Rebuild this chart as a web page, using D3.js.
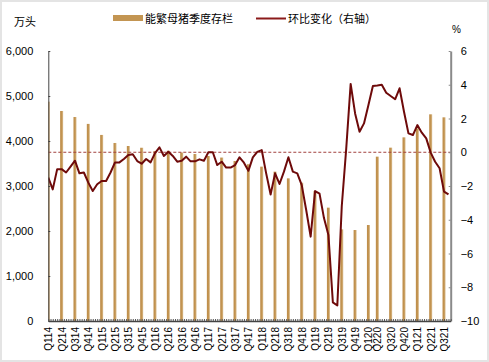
<!DOCTYPE html>
<html>
<head>
<meta charset="utf-8">
<script src="https://cdn.jsdelivr.net/npm/d3@7"></script>
<style>
  body { margin: 0; background: #fff; }
  svg { display: block; }
  text { font-family: "Liberation Sans", Arial, sans-serif; fill: #000; }
  .cjk { font-family: "Noto Sans CJK SC", sans-serif; }
</style>
</head>
<body>
<svg></svg>
<script>
// quarterly sow stock (10k head), left axis
let quarterLabels = [
  "Q114", "Q214", "Q314", "Q414", "Q115", "Q215", "Q315", "Q415",
  "Q116", "Q216", "Q316", "Q416", "Q117", "Q217", "Q317", "Q417",
  "Q118", "Q218", "Q318", "Q418", "Q119", "Q219", "Q319", "Q419",
  "Q120", "Q220", "Q320", "Q420", "Q121", "Q221", "Q321"
];
let barMonths = [
  "2014-01", "2014-04", "2014-07", "2014-10", "2015-01", "2015-04", "2015-07", "2015-10",
  "2016-01", "2016-04", "2016-07", "2016-10", "2017-01", "2017-04", "2017-07", "2017-10",
  "2018-01", "2018-04", "2018-07", "2018-10", "2019-01", "2019-04", "2019-07", "2019-10",
  "2020-01", "2020-03", "2020-06", "2020-09", "2020-12", "2021-03", "2021-06"
];
let sowStock = [
  4874, 4667, 4533, 4380, 4135, 3956, 3889, 3850,
  3775, 3785, 3745, 3711, 3667, 3632, 3556, 3483,
  3430, 3319, 3170, 3074, 2890, 2519, 2037, 2022,
  2133, 3652, 3852, 4081, 4281, 4593, 4526
];

// monthly change (%), right axis, Jan 2014 onwards
let momChange = [
  -1.5, -2.2, -1.0, -1.0, -1.2, -0.85, -0.5, -1.25, -1.2, -1.8, -2.3, -1.9,
  -1.7, -1.7, -1.2, -0.6, -0.6, -0.4, -0.16, -0.12, -0.52, -0.68, -0.4, -0.6,
  -0.05, 0.29, -0.22, 0.03, -0.22, -0.56, -0.5, -0.26, -0.54, -0.54, -0.42, -0.5,
  0.0, 0.0, -0.76, -0.56, -0.91, -0.91, -0.76, -0.3, -0.62, -1.1, -0.3, 0.02,
  0.13, -1.25, -2.5, -1.25, -1.88, -1.15, -0.3, -1.15, -1.25, -1.95, -3.42, -5.0,
  -2.3, -2.45, -3.9, -4.9, -8.9, -9.08, -3.2, 0.2, 4.05, 2.3, 1.22, 1.71,
  2.8, 3.93, 3.96, 4.0, 3.53, 3.33, 3.14, 3.79, 2.4, 1.12, 1.02, 1.61,
  1.16, 0.82, -0.02, -0.56, -0.95, -2.33, -2.5
];

let leftTicks = [0, 1000, 2000, 3000, 4000, 5000, 6000];
let rightTicks = [-10, -8, -6, -4, -2, 0, 2, 4, 6];

let width = 489;
let height = 362;
let plot = { left: 48.3, right: 450.7, top: 51, bottom: 321 };

let svg = d3.select("svg").attr("width", width).attr("height", height);

// month offset from Jan 2014
function monthIndex(s) {
  let [y, m] = s.split("-").map(Number);
  return (y - 2014) * 12 + (m - 1);
}

let xScale = d3.scaleLinear().domain([0, 90.5]).range([plot.left, plot.right]);
let yLeft = d3.scaleLinear().domain([0, 6000]).range([plot.bottom, plot.top]);
let yRight = d3.scaleLinear().domain([-10, 6]).range([plot.bottom, plot.top]);

// frame
svg.append("rect")
  .attr("x", 1).attr("y", 1)
  .attr("width", width - 2).attr("height", height - 2)
  .attr("fill", "none").attr("stroke", "#e4e4e4").attr("stroke-width", 2);

let defs = svg.append("defs");
defs.append("clipPath").attr("id", "plotClip")
  .append("rect")
  .attr("x", plot.left).attr("y", plot.top)
  .attr("width", plot.right - plot.left).attr("height", plot.bottom - plot.top);

let grad = defs.append("linearGradient").attr("id", "barGrad")
  .attr("x1", "0%").attr("x2", "100%").attr("y1", "0%").attr("y2", "0%");
grad.append("stop").attr("offset", "0%").attr("stop-color", "#bd8c49");
grad.append("stop").attr("offset", "55%").attr("stop-color", "#c39552");
grad.append("stop").attr("offset", "100%").attr("stop-color", "#dcc095");

let g = svg.append("g").attr("clip-path", "url(#plotClip)");

// bars
let barData = barMonths.map((m, i) => ({ m: monthIndex(m), v: sowStock[i] }));
g.selectAll("rect.bar")
  .data(barData)
  .enter()
  .append("rect")
  .attr("class", "bar")
  .attr("x", (d) => xScale(d.m) - 1.5)
  .attr("y", (d) => yLeft(d.v))
  .attr("width", 3)
  .attr("height", (d) => yLeft(0) - yLeft(d.v))
  .attr("fill", "url(#barGrad)");

// zero reference line (right axis)
g.append("line")
  .attr("x1", plot.left).attr("x2", plot.right)
  .attr("y1", yRight(0)).attr("y2", yRight(0))
  .attr("stroke", "#a3423f").attr("stroke-width", 1)
  .attr("stroke-dasharray", "3,2");

// line
let line = d3.line()
  .x((d, i) => xScale(i))
  .y((d) => yRight(d));

g.append("path")
  .datum(momChange)
  .attr("d", line)
  .attr("fill", "none")
  .attr("stroke", "#6e0a0a")
  .attr("stroke-width", 2)
  .attr("stroke-linejoin", "round");

// left axis
let leftAxis = d3.axisLeft(yLeft)
  .tickValues(leftTicks)
  .tickSize(-2)
  .tickSizeOuter(0)
  .tickPadding(15)
  .tickFormat(d3.format(","));
let la = svg.append("g")
  .attr("transform", `translate(${plot.left}, 0)`)
  .call(leftAxis);
la.select(".domain").attr("stroke", "#444");
la.selectAll(".tick line").attr("stroke", "#444");
la.selectAll("text").style("font-size", "11px").attr("fill", "#000");

// right axis
let rightAxis = d3.axisRight(yRight)
  .tickValues(rightTicks)
  .tickSize(-2)
  .tickSizeOuter(0)
  .tickPadding(10);
let ra = svg.append("g")
  .attr("transform", `translate(${plot.right}, 0)`)
  .call(rightAxis);
ra.select(".domain").attr("stroke", "#8a8a8a").attr("stroke-width", 2);
ra.selectAll(".tick line").attr("stroke", "#8a8a8a");
ra.selectAll("text").style("font-size", "11px").attr("fill", "#000");

// bottom axis: small ticks
let bottomAxis = d3.axisBottom(xScale)
  .tickValues(d3.range(0, 90.6, 0.5))
  .tickSize(-2)
  .tickSizeOuter(0)
  .tickFormat("");
let ba = svg.append("g")
  .attr("transform", `translate(0, ${plot.bottom})`)
  .call(bottomAxis);
ba.select(".domain").attr("stroke", "#444").attr("stroke-width", 1.5);
ba.selectAll(".tick line").attr("stroke", "#555");

// quarter labels
let labelAxis = d3.axisBottom(xScale)
  .tickValues(barData.map((d) => d.m))
  .tickSize(0)
  .tickFormat((d, i) => quarterLabels[i]);
let lab = svg.append("g")
  .attr("transform", `translate(0, ${plot.bottom})`)
  .call(labelAxis);
lab.select(".domain").remove();
lab.selectAll("text")
  .style("font-size", "10px")
  .attr("fill", "#000")
  .attr("transform", "rotate(-90)")
  .attr("text-anchor", "end")
  .attr("x", -6)
  .attr("y", 0)
  .attr("dy", "0.35em");

// unit labels
svg.append("text")
  .attr("class", "cjk")
  .attr("x", 14).attr("y", 26)
  .style("font-size", "11px")
  .text("万头");
svg.append("text")
  .attr("x", 452).attr("y", 33)
  .style("font-size", "10px")
  .text("%");

// legend
svg.append("rect")
  .attr("x", 113).attr("y", 15)
  .attr("width", 30).attr("height", 6)
  .attr("fill", "#c39552");
svg.append("text")
  .attr("class", "cjk")
  .attr("x", 145).attr("y", 22.5)
  .style("font-size", "11px")
  .text("能繁母猪季度存栏");
svg.append("line")
  .attr("x1", 256).attr("x2", 286)
  .attr("y1", 18.5).attr("y2", 18.5)
  .attr("stroke", "#8b1a1a").attr("stroke-width", 2);
svg.append("text")
  .attr("class", "cjk")
  .attr("x", 288).attr("y", 22.5)
  .style("font-size", "11px")
  .text("环比变化（右轴）");
</script>
</body>
</html>
